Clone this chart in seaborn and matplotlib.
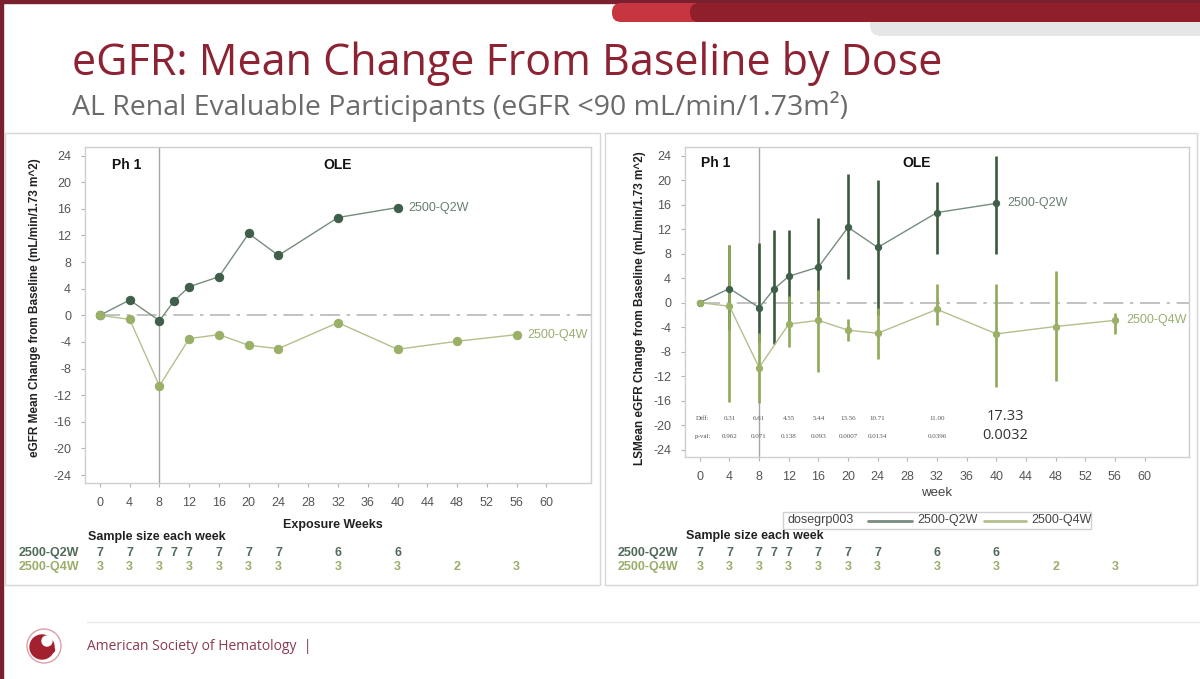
import matplotlib
matplotlib.use('Agg')
import matplotlib.pyplot as plt
import matplotlib.transforms as mtransforms
from matplotlib.patches import Rectangle, FancyBboxPatch, Circle, Polygon
import seaborn as sns
import pandas as pd

# ---- data ----
weeks_q2w = [0, 4, 8, 10, 12, 16, 20, 24, 32, 40]
mean_q2w = [0, 2.3, -0.8, 2.2, 4.3, 5.8, 12.3, 9.0, 14.7, 16.2]
lo_q2w = [0, -4.5, -6.4, -6.7, -3.2, -2.2, 3.9, -2.0, 8.0, 8.0]
hi_q2w = [0, 9.4, 9.7, 11.8, 11.8, 13.8, 21.0, 20.0, 19.7, 24.0]
n_q2w = [7, 7, 7, 7, 7, 7, 7, 7, 6, 6]

weeks_q4w = [0, 4, 8, 12, 16, 20, 24, 32, 40, 48, 56]
mean_q4w = [0, -0.6, -10.6, -3.5, -2.9, -4.5, -5.0, -1.1, -5.1, -3.9, -2.9]
lo_q4w = [0, -16.3, -16.4, -7.2, -11.4, -6.2, -9.2, -3.6, -13.7, -12.8, -5.1]
hi_q4w = [0, 9.4, -5.0, 1.0, 2.0, -2.6, -0.8, 3.0, 3.0, 5.1, -1.7]
n_q4w = [3, 3, 3, 3, 3, 3, 3, 3, 3, 2, 3]

diff_weeks = [4, 8, 12, 16, 20, 24, 32, 40]
diff_vals = ['0.31', '6.61', '4.55', '5.44', '13.56', '10.71', '11.00', '17.33']
p_vals = ['0.962', '0.071', '0.138', '0.093', '0.0007', '0.0134', '0.0396', '0.0032']

x_ticks = list(range(0, 61, 4))
y_ticks = list(range(-24, 25, 4))

DARK = '#3f5f4a'
DARK_LINE = '#768c7d'
DARK_ERR = '#3b5a3c'
LIGHT = '#9bb067'
LIGHT_LINE = '#b3c08d'
LIGHT_ERR = '#8ea957'
MAROON = '#8c2232'

sns.set_theme(style='white')
plt.rcParams['font.family'] = ['Liberation Sans', 'DejaVu Sans']
plt.rcParams['axes.unicode_minus'] = False

W, H = 1200, 679
fig = plt.figure(figsize=(12, 6.79), dpi=100)


def fx(x):
    return x / W


def fy(y):
    return 1 - y / H


def add_axes_px(x0, y0, x1, y1):
    return fig.add_axes([fx(x0), fy(y1), (x1 - x0) / W, (y1 - y0) / H])


# ---- slide decoration ----
bg = fig.add_axes([0, 0, 1, 1])
bg.set_xlim(0, W)
bg.set_ylim(H, 0)
bg.axis('off')
bg.add_patch(Rectangle((0, 0), W, 3, color='#7a1f2e'))
bg.add_patch(Rectangle((0, 0), 2.5, H, color='#7a1f2e'))
bg.add_patch(FancyBboxPatch((870, 14), 340, 22, boxstyle='round,pad=0,rounding_size=11',
                            color='#e6e6e6', lw=0))
bg.add_patch(FancyBboxPatch((612, 3), 600, 19, boxstyle='round,pad=0,rounding_size=9',
                            color='#c63540', lw=0))
bg.add_patch(FancyBboxPatch((690, 3), 520, 19, boxstyle='round,pad=0,rounding_size=9',
                            color='#8f1f2b', lw=0))
bg.text(72, 64, 'eGFR: Mean Change From Baseline by Dose', fontsize=31, color=MAROON,
        family='Open Sans', va='center', ha='left')
bg.text(72, 107, 'AL Renal Evaluable Participants (eGFR <90 mL/min/1.73m\u00b2)', fontsize=20.5,
        color='#6b6b6b', family='Open Sans', va='center', ha='left')
bg.add_patch(Rectangle((5, 133), 595, 452, fill=False, ec='#d6d6d6', lw=1))
bg.add_patch(Rectangle((605, 133), 592, 452, fill=False, ec='#d6d6d6', lw=1))
bg.plot([87, 1200], [622, 622], color='#e8e8e8', lw=1)
bg.add_patch(Circle((44, 646), 17, fill=False, ec='#d9a0a8', lw=1))
bg.add_patch(Circle((42, 647), 12, color='#a3202e'))
bg.add_patch(Circle((47, 641), 5, color='white'))
bg.add_patch(Circle((52, 650), 2.5, color='#a3202e'))
bg.text(87, 647, 'American Society of Hematology  |', fontsize=10, color='#8a3b4f',
        family='Open Sans', va='center', ha='left')


def style_axes(ax, ylim):
    ax.set_xlim(-2, 66)
    ax.set_ylim(*ylim)
    ax.set_xticks(x_ticks)
    ax.set_yticks(y_ticks)
    ax.tick_params(axis='both', which='both', direction='out', length=3, width=0.8,
                   color='#b5b5b5', labelcolor='#555555', labelsize=9, pad=7,
                   bottom=True, left=True)
    for sp in ax.spines.values():
        sp.set_color('#cfcfcf')
        sp.set_linewidth(1)
    ax.axvline(8, color='#a5a5a5', lw=1, zorder=1)
    ax.plot([0, 66], [0, 0], color='#b8b8b8', lw=1.2, ls=(0, (12, 4, 2, 4)), zorder=1)


def draw_lines(ax, ms):
    df2 = pd.DataFrame({'week': weeks_q2w, 'change': mean_q2w})
    df4 = pd.DataFrame({'week': weeks_q4w, 'change': mean_q4w})
    sns.lineplot(data=df2, x='week', y='change', ax=ax, color=DARK_LINE, lw=1,
                 marker='o', markersize=ms, markerfacecolor=DARK, markeredgecolor=DARK,
                 zorder=4)
    sns.lineplot(data=df4, x='week', y='change', ax=ax, color=LIGHT_LINE, lw=1,
                 marker='o', markersize=ms, markerfacecolor=LIGHT, markeredgecolor=LIGHT,
                 zorder=4)
    ax.set_xlabel('')
    ax.set_ylabel('')
    ax.text(weeks_q2w[-1] + 1.5, mean_q2w[-1], '2500-Q2W', color='#668070', fontsize=9,
            va='center', ha='left')
    ax.text(weeks_q4w[-1] + 1.5, mean_q4w[-1], '2500-Q4W', color='#9aae72', fontsize=9,
            va='center', ha='left')


def sample_rows(ax, x_label, x_head, y_head):
    tr = mtransforms.blended_transform_factory(ax.transData, fig.transFigure)
    fig.text(fx(x_head), fy(y_head), 'Sample size each week', fontsize=9, weight='bold',
             color='#222222', va='center', ha='left')
    fig.text(fx(x_label), fy(553), '2500-Q2W', fontsize=9, weight='bold', color='#4f6b58',
             va='center', ha='left')
    fig.text(fx(x_label), fy(567), '2500-Q4W', fontsize=9, weight='bold', color='#9aae6a',
             va='center', ha='left')
    for w, n in zip(weeks_q2w, n_q2w):
        ax.text(w, fy(553), str(n), transform=tr, fontsize=9, weight='bold',
                color='#4f6b58', ha='center', va='center')
    for w, n in zip(weeks_q4w, n_q4w):
        ax.text(w, fy(567), str(n), transform=tr, fontsize=9, weight='bold',
                color='#9aae6a', ha='center', va='center')


# ---- left panel: observed mean change ----
axL = add_axes_px(85, 147, 591, 483)
style_axes(axL, (-25.2, 25.3))
draw_lines(axL, 6)
axL.text(3.6, 22.6, 'Ph 1', fontsize=10, weight='bold', color='#111111', ha='center', va='center')
axL.text(32, 22.6, 'OLE', fontsize=10, weight='bold', color='#111111', ha='center', va='center')
fig.text(fx(35), fy(308), 'eGFR Mean Change from Baseline (mL/min/1.73 m^2)', rotation=90,
         fontsize=8.5, weight='bold', color='#222222', ha='center', va='center')
fig.text(fx(333), fy(525), 'Exposure Weeks', fontsize=9, weight='bold', color='#222222',
         ha='center', va='center')
sample_rows(axL, 19, 88, 537)
# mouse cursor seen on the slide
bg.add_patch(Polygon([(181, 319), (184, 335), (188, 331), (194, 339), (198, 336),
                      (192, 328), (197, 325)], closed=True, fc='#d42a2a', ec='#5a0d0d', lw=1))

# ---- right panel: LSMeans with CI ----
axR = add_axes_px(685, 147, 1189, 457)
style_axes(axR, (-25.2, 25.4))
axR.vlines(weeks_q2w, lo_q2w, hi_q2w, color=DARK_ERR, lw=1.9, zorder=2)
axR.vlines(weeks_q4w, lo_q4w, hi_q4w, color=LIGHT_ERR, lw=1.9, zorder=3)
draw_lines(axR, 4.5)
axR.text(2.1, 22.8, 'Ph 1', fontsize=10, weight='bold', color='#111111', ha='center', va='center')
axR.text(29.3, 22.8, 'OLE', fontsize=10, weight='bold', color='#111111', ha='center', va='center')
axR.text(-0.6, -18.9, 'Diff:', fontsize=5, color='#555555', family='Liberation Serif',
         ha='left', va='center')
axR.text(-0.6, -21.8, 'p-val:', fontsize=5, color='#555555', family='Liberation Serif',
         ha='left', va='center')
for w, d, p in zip(diff_weeks, diff_vals, p_vals):
    if w == 40:
        axR.text(w + 1.2, -18.6, d, fontsize=10.5, color='#333333', family='Open Sans',
                 ha='center', va='center')
        axR.text(w + 1.2, -21.7, p, fontsize=10.5, color='#333333', family='Open Sans',
                 ha='center', va='center')
    else:
        axR.text(w, -18.9, d, fontsize=5, color='#555555', family='Liberation Serif',
                 ha='center', va='center')
        axR.text(w, -21.8, p, fontsize=5, color='#555555', family='Liberation Serif',
                 ha='center', va='center')
fig.text(fx(640), fy(308), 'LSMean eGFR Change from Baseline (mL/min/1.73 m^2)', rotation=90,
         fontsize=8.5, weight='bold', color='#222222', ha='center', va='center')
fig.text(fx(937), fy(493), 'week', fontsize=9.5, color='#444444', ha='center', va='center')

# legend box
bg.add_patch(Rectangle((783, 512), 308, 17, fill=False, ec='#d0d0d0', lw=1))
bg.text(788, 520.5, 'dosegrp003', fontsize=9, color='#444444', va='center', ha='left')
bg.plot([868, 912], [520.5, 520.5], color=DARK_LINE, lw=2)
bg.text(917, 520.5, '2500-Q2W', fontsize=9, color='#444444', va='center', ha='left')
bg.plot([984, 1026], [520.5, 520.5], color=LIGHT_LINE, lw=2)
bg.text(1031, 520.5, '2500-Q4W', fontsize=9, color='#444444', va='center', ha='left')
sample_rows(axR, 618, 686, 536)

fig.savefig('out.png', dpi=100)
